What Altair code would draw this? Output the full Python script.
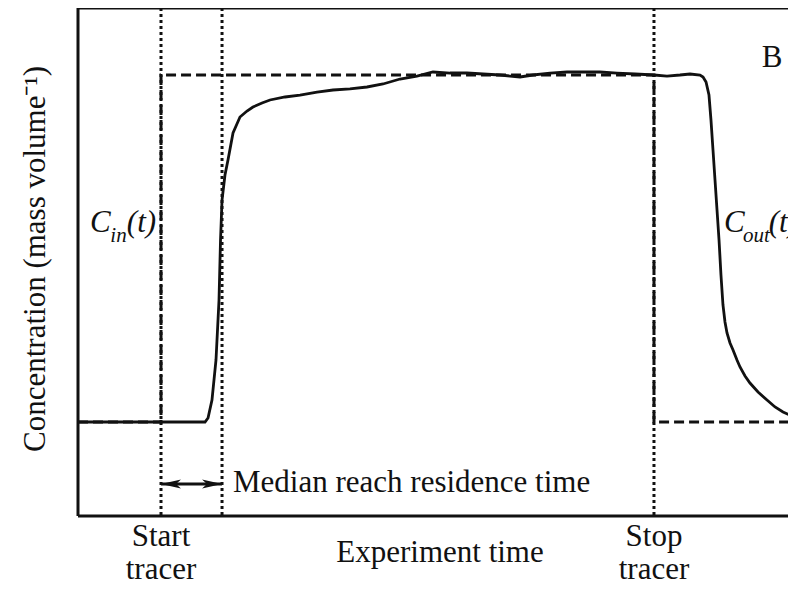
import altair as alt
import pandas as pd

# ---- data (arbitrary units: time 0-100, concentration 0-100) ----
cout_time = [0, 17.69, 18.11, 18.66, 19.22, 19.64, 19.78, 19.85, 20.06, 20.47, 20.89, 21.59,
             22.56, 23.54, 24.37, 25.63, 26.74, 28.83, 30.92, 33.29, 35.52, 37.88, 40.25, 42.48,
             44.85, 47.21, 49.44, 51.81, 54.18, 56.41, 58.77, 60.17, 61.56, 63.37, 65.74, 68.11,
             70.33, 72.70, 75.07, 77.58, 80.22, 82.03, 83.84, 85.24, 86.63, 87.05, 87.47, 87.88,
             88.16, 88.44, 88.72, 89.00, 89.28, 89.55, 89.83, 90.11, 90.39, 90.81, 91.23, 91.78,
             92.20, 92.90, 93.59, 94.71, 95.96, 97.08, 98.19, 99.16, 100]
cout_conc = [18.50, 18.50, 19.29, 22.83, 30.71, 42.52, 50.39, 54.33, 62.20, 67.13, 70.08, 75.39,
             78.54, 79.72, 80.51, 81.30, 81.89, 82.48, 82.87, 83.46, 83.86, 84.06, 84.45, 85.04,
             86.02, 86.61, 87.40, 87.20, 87.20, 87.01, 86.81, 86.61, 86.42, 86.81, 87.20, 87.40,
             87.40, 87.40, 87.20, 87.01, 86.81, 86.61, 86.81, 87.01, 86.81, 86.42, 85.43, 82.87,
             77.95, 72.05, 66.14, 60.24, 54.33, 47.44, 41.54, 38.19, 36.02, 34.06, 32.68, 30.71,
             29.33, 27.56, 26.18, 24.41, 22.83, 21.46, 20.47, 19.88, 19.49]

cin_time = [0, 11.56, 11.56, 80.22, 80.22, 100]
cin_conc = [18.5, 18.5, 86.8, 86.8, 18.5, 18.5]

marker_time = [11.56, 20.06, 80.22]          # start tracer, median residence, stop tracer
arrow_from, arrow_to, arrow_level = 11.56, 20.06, 6.30
arrowhead_time = [12.95, 18.67]
arrowhead_dir = ["left", "right"]

# annotation texts (positions in data units)
left_text = ["Median reach residence time"]
left_x = [21.59]
left_y = [4.72]
center_text = ["B"]
center_x = [96.66]
center_y = [88.39]

bottom_text = ["Start\ntracer", "Stop\ntracer", "Experiment time"]
bottom_x = [11.56, 80.22, 50.42]
bottom_y = [-5.91, -5.91, -9.06]

ital_text = ["C", "(t)", "C", "(t)"]
ital_x = [1.67, 6.80, 89.97, 96.20]
ital_y = [55.9, 55.9, 55.9, 55.9]
sub_text = ["in", "out"]
sub_x = [4.50, 92.62]
sub_y = [54.0, 54.0]

ytitle = "Concentration (mass volume\u207b\u00b9)"

# ---- tables ----
cout_df = pd.DataFrame({"t": cout_time, "c": cout_conc, "i": range(len(cout_time))})
cin_df = pd.DataFrame({"t": cin_time, "c": cin_conc, "i": range(len(cin_time))})
marker_df = pd.DataFrame({"t": marker_time})
arrow_df = pd.DataFrame({"t": [arrow_from], "t2": [arrow_to], "c": [arrow_level]})
head_df = pd.DataFrame({"t": arrowhead_time, "c": [arrow_level] * 2, "d": arrowhead_dir})
left_df = pd.DataFrame({"t": left_x, "c": left_y, "txt": left_text})
center_df = pd.DataFrame({"t": center_x, "c": center_y, "txt": center_text})
bottom_df = pd.DataFrame({"t": bottom_x, "c": bottom_y, "txt": bottom_text})
ital_df = pd.DataFrame({"t": ital_x, "c": ital_y, "txt": ital_text})
sub_df = pd.DataFrame({"t": sub_x, "c": sub_y, "txt": sub_text})
ytitle_df = pd.DataFrame({"t": [-4.60], "c": [50.6], "txt": [ytitle]})

xs = alt.Scale(domain=[0, 100], nice=False, zero=False)
ys = alt.Scale(domain=[0, 100], nice=False, zero=False)


def X(f="t"):
    return alt.X(f, type="quantitative", scale=xs, axis=None)


def Y(f="c"):
    return alt.Y(f, type="quantitative", scale=ys, axis=None)


INK = "#111111"
FONT = "Liberation Serif"
FS = 31

frame_top = alt.Chart(pd.DataFrame({"c": [100]})).mark_rule(color=INK, strokeWidth=3).encode(y=Y())
frame_bot = alt.Chart(pd.DataFrame({"c": [0]})).mark_rule(color=INK, strokeWidth=3).encode(y=Y())
frame_left = alt.Chart(pd.DataFrame({"t": [0]})).mark_rule(color=INK, strokeWidth=3).encode(x=X())

dotted = alt.Chart(marker_df).mark_rule(color=INK, strokeWidth=3, strokeDash=[3, 3]).encode(x=X())

cin_line = alt.Chart(cin_df).mark_line(color=INK, strokeWidth=3, strokeDash=[10, 5]).encode(
    x=X(), y=Y(), order=alt.Order("i:Q"))
cout_line = alt.Chart(cout_df).mark_line(color=INK, strokeWidth=2.8).encode(
    x=X(), y=Y(), order=alt.Order("i:Q"))

arrow = alt.Chart(arrow_df).mark_rule(color=INK, strokeWidth=3).encode(
    x=X(), x2="t2", y=Y())
left_path = "M -1 0 L 1 -0.45 L 0.5 0 L 1 0.45 Z"
right_path = "M 1 0 L -1 -0.45 L -0.5 0 L -1 0.45 Z"
heads = alt.Chart(head_df).mark_point(filled=True, color=INK, size=400, opacity=1).encode(
    x=X(), y=Y(),
    shape=alt.Shape("d:N", scale=alt.Scale(domain=["left", "right"], range=[left_path, right_path]),
                    legend=None))

left_txt = alt.Chart(left_df).mark_text(font=FONT, fontSize=FS, color=INK, baseline="alphabetic",
                                        align="left").encode(x=X(), y=Y(), text="txt:N")
center_txt = alt.Chart(center_df).mark_text(font=FONT, fontSize=FS, color=INK, baseline="alphabetic",
                                            align="center").encode(x=X(), y=Y(), text="txt:N")

bottom = alt.Chart(bottom_df).mark_text(font=FONT, fontSize=FS, color=INK, baseline="alphabetic",
                                        align="center", lineBreak="\n", lineHeight=33).encode(
    x=X(), y=Y(), text="txt:N")

ital = alt.Chart(ital_df).mark_text(font=FONT, fontSize=FS, fontStyle="italic", color=INK,
                                    baseline="alphabetic", align="left").encode(
    x=X(), y=Y(), text="txt:N")
sub = alt.Chart(sub_df).mark_text(font=FONT, fontSize=21, fontStyle="italic", color=INK,
                                  baseline="alphabetic", align="left").encode(
    x=X(), y=Y(), text="txt:N")

ytitle_mark = alt.Chart(ytitle_df).mark_text(font=FONT, fontSize=FS, color=INK, baseline="alphabetic",
                                             align="center", angle=270).encode(
    x=X(), y=Y(), text="txt:N")

chart = alt.layer(
    frame_top, frame_bot, frame_left, dotted, cin_line, cout_line, arrow, heads,
    left_txt, center_txt, bottom, ital, sub, ytitle_mark
).properties(
    width=718, height=508,
    autosize=alt.AutoSizeParams(type="none"),
    padding={"left": 70, "top": 0, "right": -8, "bottom": 64},
    background="white",
).configure_view(stroke=None)

chart.save("out.html", embed_options={"renderer": "svg", "actions": False})
